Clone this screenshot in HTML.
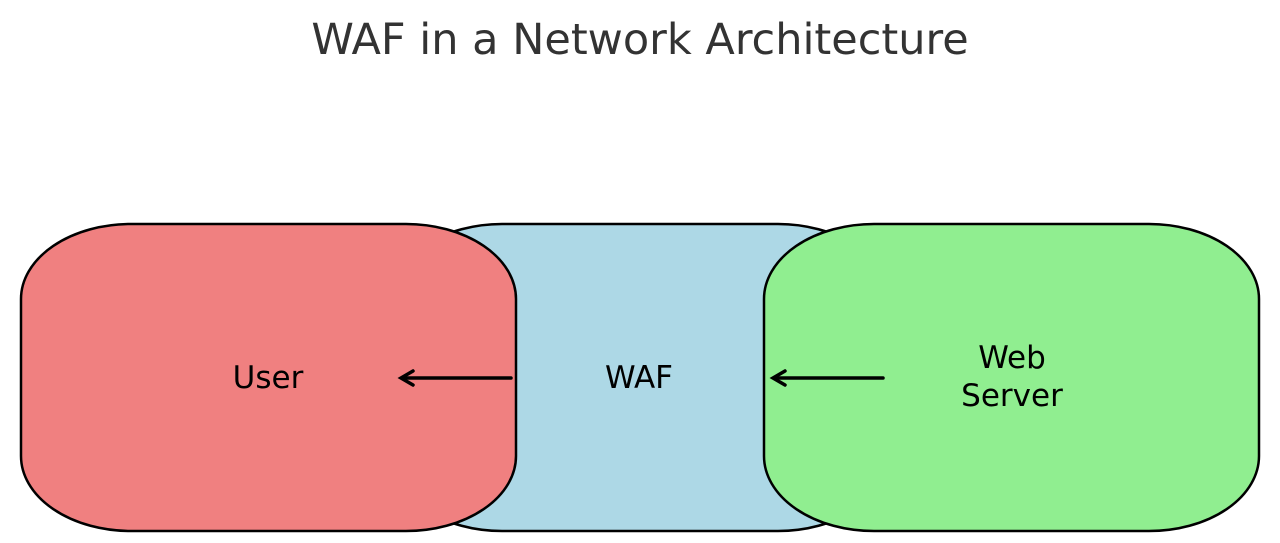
<!DOCTYPE html>
<html><head><meta charset="utf-8"><style>
html,body{margin:0;padding:0;background:#fff;width:1280px;height:543px;overflow:hidden}
</style></head><body>
<svg width="1280" height="543" viewBox="0 0 1280 543" xmlns="http://www.w3.org/2000/svg" font-family="DejaVu Sans, Liberation Sans, sans-serif">
<text x="640" y="54" text-anchor="middle" font-size="43" fill="#333">WAF in a Network Architecture</text>
<rect x="392" y="224" width="496" height="307" rx="110" ry="75" fill="#add8e6" stroke="#000" stroke-width="2.5"/>
<rect x="21" y="224" width="495" height="307" rx="110" ry="75" fill="#f08080" stroke="#000" stroke-width="2.5"/>
<rect x="764" y="224" width="495" height="307" rx="110" ry="75" fill="#90ee90" stroke="#000" stroke-width="2.5"/>
<text x="268" y="388" text-anchor="middle" font-size="31" fill="#000">User</text>
<text x="639" y="388" text-anchor="middle" font-size="31" fill="#000">WAF</text>
<text x="1012" y="368" text-anchor="middle" font-size="31" fill="#000">Web</text>
<text x="1012" y="406" text-anchor="middle" font-size="31" fill="#000">Server</text>
<g stroke="#000" stroke-width="3.5" fill="none" stroke-linecap="round">
<line x1="511" y1="378" x2="402" y2="378"/>
<polyline points="413,371 401,378 413,385"/>
<line x1="883" y1="378" x2="774" y2="378"/>
<polyline points="785,371 773,378 785,385"/>
</g>
</svg>
</body></html>
